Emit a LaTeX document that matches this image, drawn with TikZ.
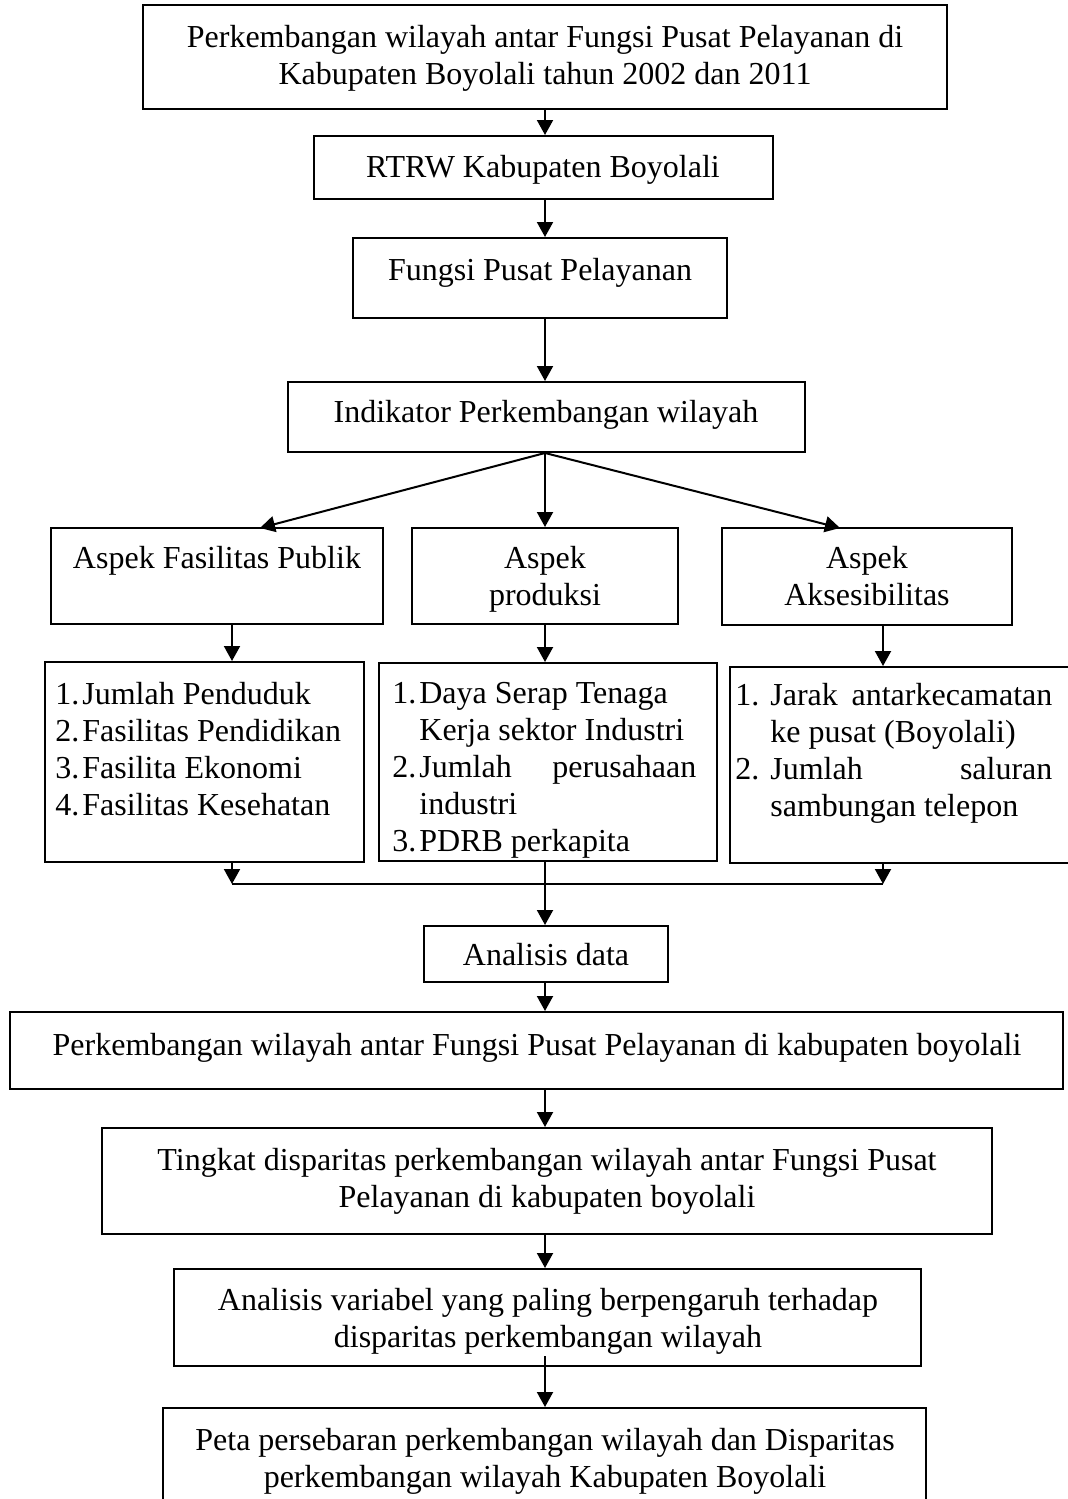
\documentclass[tikz,border=0pt]{standalone}
\usepackage{fontspec}
\setmainfont{Liberation Serif}
\usetikzlibrary{arrows.meta,fit}
\newcommand{\numA}[1]{\makebox[13.5pt][l]{#1}}
\newcommand{\numB}[1]{\makebox[17.5pt][l]{#1}}

\begin{document}
\begin{tikzpicture}[
  x=0.5pt,y=-0.5pt,
  font=\fontsize{16}{18.5}\selectfont,
  box/.style={draw,line width=1pt,inner sep=0pt},
  flow/.style={-{Triangle[length=7.5pt,width=8pt]},line width=1pt},
  txt/.style={inner sep=0pt,align=center},
  lst/.style={inner sep=0pt,align=flush left,anchor=north west,
    execute at begin node=\setlength{\parindent}{0pt}}]
\useasboundingbox (0,0) rectangle (1068,1499);
\coordinate (axis) at (545,0);

% frames
\node[box,fit={(143,5) (947,109)}] (top) {};
\node[box,fit={(314,136) (773,199)}] (rtrw) {};
\node[box,fit={(353,238) (727,318)}] (fungsi) {};
\node[box,fit={(288,382) (805,452)}] (ind) {};
\node[box,fit={(51,528) (383,624)}] (aspL) {};
\node[box,fit={(412,528) (678,624)}] (aspM) {};
\node[box,fit={(722,528) (1012,625)}] (aspR) {};
\node[box,fit={(45,662) (364,862)}] (lstL) {};
\node[box,fit={(379,663) (717,861)}] (lstM) {};
\node[box,fit={(730,667) (1080,863)}] (lstR) {};
\node[box,fit={(424,926) (668,982)}] (ana) {};
\node[box,fit={(10,1012) (1063,1089)}] (wide) {};
\node[box,fit={(102,1128) (992,1234)}] (ting) {};
\node[box,fit={(174,1269) (921,1366)}] (av) {};
\node[box,fit={(163,1408) (926,1540)}] (peta) {};

% texts
\node[txt,anchor=north] (top-t) at (545,25)
  {Perkembangan wilayah antar Fungsi Pusat Pelayanan di\\
   Kabupaten Boyolali tahun 2002 dan 2011};
\node[txt,anchor=base] (rtrw-t) at (543,177) {RTRW Kabupaten Boyolali};
\node[txt,anchor=base] (fungsi-t) at (540,280) {Fungsi Pusat Pelayanan};
\node[txt,anchor=base] (ind-t) at (546,422) {Indikator Perkembangan wilayah};
\node[txt,anchor=base] (aspL-t) at (217,568) {Aspek Fasilitas Publik};
\node[txt,anchor=north] (aspM-t) at (545,546) {Aspek\\produksi};
\node[txt,anchor=north] (aspR-t) at (867,546) {Aspek\\Aksesibilitas};
\node[lst] (lstL-t) at (55,682)
  {\numA{1.}Jumlah Penduduk\\
   \numA{2.}Fasilitas Pendidikan\\
   \numA{3.}Fasilita Ekonomi\\
   \numA{4.}Fasilitas Kesehatan};
\node[lst,text width=152pt] (lstM-t) at (392,682)
  {\numA{1.}Daya Serap Tenaga\\
   \hspace*{13.5pt}Kerja sektor Industri\\
   \numA{2.}Jumlah\hfill perusahaan\\
   \hspace*{13.5pt}industri\\
   \numA{3.}PDRB perkapita};
\node[lst,text width=158.5pt] (lstR-t) at (735,683)
  {\numB{1.}Jarak\hfill antarkecamatan\\
   \hspace*{17.5pt}ke pusat (Boyolali)\\
   \numB{2.}Jumlah\hfill saluran\\
   \hspace*{17.5pt}sambungan telepon};
\node[txt,anchor=base] (ana-t) at (546,965) {Analisis data};
\node[txt,anchor=base] (wide-t) at (537,1055)
  {Perkembangan wilayah antar Fungsi Pusat Pelayanan di kabupaten boyolali};
\node[txt,anchor=north] (ting-t) at (547,1148)
  {Tingkat disparitas perkembangan wilayah antar Fungsi Pusat\\
   Pelayanan di kabupaten boyolali};
\node[txt,anchor=north] (av-t) at (548,1288)
  {Analisis variabel yang paling berpengaruh terhadap\\
   disparitas perkembangan wilayah};
\node[txt,anchor=north] (peta-t) at (545,1428)
  {Peta persebaran perkembangan wilayah dan Disparitas\\
   perkembangan wilayah Kabupaten Boyolali};

% connectors
\coordinate (tipL) at (260,528);
\coordinate (tipR) at (840,528);
\coordinate (busL) at (232,884);
\coordinate (busR) at (883,884);
\draw[flow] (top.south -| axis) -- (rtrw.north -| axis);
\draw[flow] (rtrw.south -| axis) -- (fungsi.north -| axis);
\draw[flow] (fungsi.south -| axis) -- (ind.north -| axis);
\draw[flow] (ind.south -| axis) -- (tipL);
\draw[flow] (ind.south -| axis) -- (aspM.north -| axis);
\draw[flow] (ind.south -| axis) -- (tipR);
\draw[flow] (aspL.south -| busL) -- (lstL.north -| busL);
\draw[flow] (aspM.south -| axis) -- (lstM.north -| axis);
\draw[flow] (aspR.south -| busR) -- (lstR.north -| busR);
\draw[flow] (lstL.south -| busL) -- (busL);
\draw[flow] (lstR.south -| busR) -- (busR);
\draw[line width=1pt] (busL) -- (busR);
\draw[flow] (lstM.south -| axis) -- (ana.north -| axis);
\draw[flow] (ana.south -| axis) -- (wide.north -| axis);
\draw[flow] (wide.south -| axis) -- (ting.north -| axis);
\draw[flow] (ting.south -| axis) -- (av.north -| axis);
\draw[flow] ([yshift=5.5pt]av.south -| axis) -- (peta.north -| axis);
\end{tikzpicture}
\end{document}
